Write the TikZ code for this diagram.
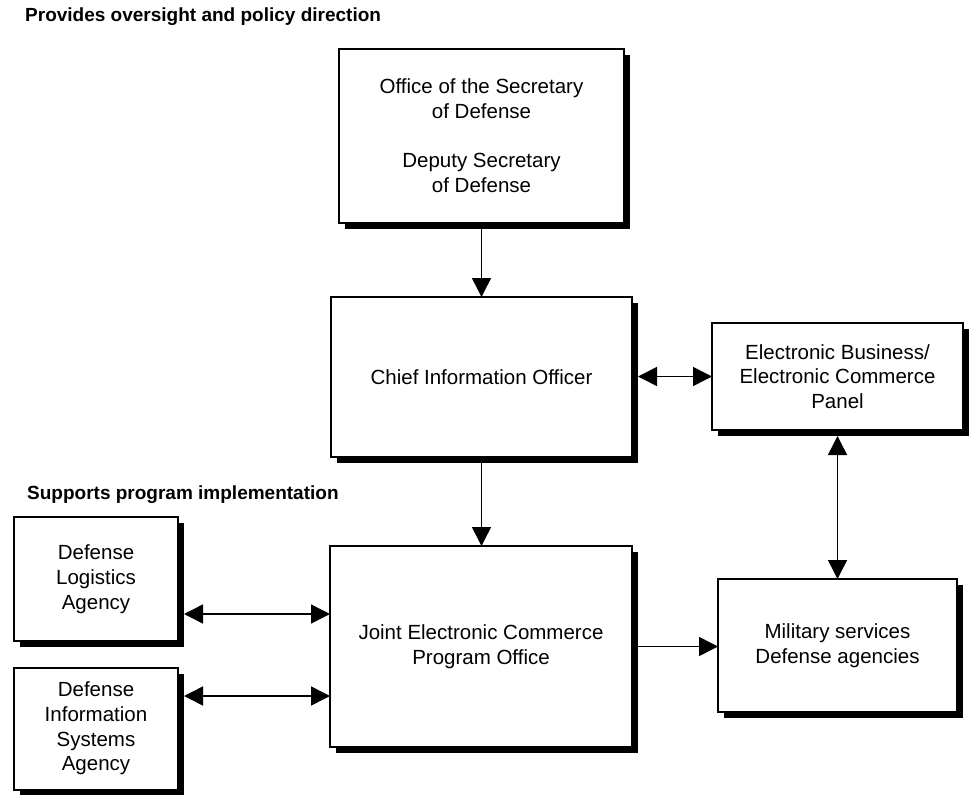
\documentclass[tikz,border=0pt]{standalone}
\usepackage{fontspec}
\setmainfont{Liberation Sans}
\usetikzlibrary{arrows.meta,shadows}
\begin{document}
\begin{tikzpicture}[x=1pt,y=-1pt,
  orgbox/.style={draw, line width=2pt, fill=white, align=center, inner sep=0pt, outer sep=0pt,
    font=\fontsize{20.5}{24.8}\selectfont,
    drop shadow={shadow xshift=6pt, shadow yshift=-6pt, opacity=1, fill=black}},
  arr/.style={line width=1.5pt, -{Triangle[length=19pt,width=19pt]}},
  dbl/.style={line width=1.5pt, {Triangle[length=19pt,width=19pt]}-{Triangle[length=19pt,width=19pt]}},
  heading/.style={anchor=west, inner sep=0pt, font=\fontsize{19}{23}\selectfont\bfseries}]
\useasboundingbox (0,0) rectangle (975,795);
\fill[white] (0,0) rectangle (975,795);

\node[heading] (h1) at (25,17) {Provides oversight and policy direction};
\node[heading] (h2) at (27,495) {Supports program implementation};

\node[orgbox, minimum width=285pt, minimum height=174pt] (osd) at (481.5,136)
  {Office of the Secretary\\of Defense\\[24.5pt]Deputy Secretary\\of Defense};
\node[orgbox, minimum width=301pt, minimum height=160pt] (cio) at (481.5,377)
  {Chief Information Officer};
\node[orgbox, minimum width=251pt, minimum height=107pt] (eb) at (837.5,376.5)
  {Electronic Business/\\Electronic Commerce\\Panel};
\node[orgbox, minimum width=302pt, minimum height=201pt] (jec) at (481,646.5)
  {Joint Electronic Commerce\\Program Office};
\node[orgbox, minimum width=164pt, minimum height=124pt] (dla) at (96,579)
  {Defense\\Logistics\\Agency};
\node[orgbox, minimum width=164pt, minimum height=122pt] (disa) at (96,728.5)
  {Defense\\Information\\Systems\\Agency};
\node[orgbox, minimum width=239pt, minimum height=133pt] (ms) at (837.5,645.5)
  {Military services\\Defense agencies};

\coordinate (ya) at (0,614);
\coordinate (yb) at (0,696);

\draw[arr] ([yshift=-6pt]osd.south) -- (osd.south |- cio.north);
\draw[arr] ([yshift=-6pt]cio.south) -- (cio.south |- jec.north);
\draw[dbl] ([xshift=6pt]cio.east |- eb.west) -- (eb.west);
\draw[dbl] ([yshift=-6pt]eb.south) -- (eb.south |- ms.north);
\draw[dbl] ([xshift=6pt]dla.east |- ya) -- (jec.west |- ya);
\draw[dbl] ([xshift=6pt]disa.east |- yb) -- (jec.west |- yb);
\draw[arr] ([xshift=6pt]jec.east) -- (ms.west |- jec.east);
\end{tikzpicture}
\end{document}
